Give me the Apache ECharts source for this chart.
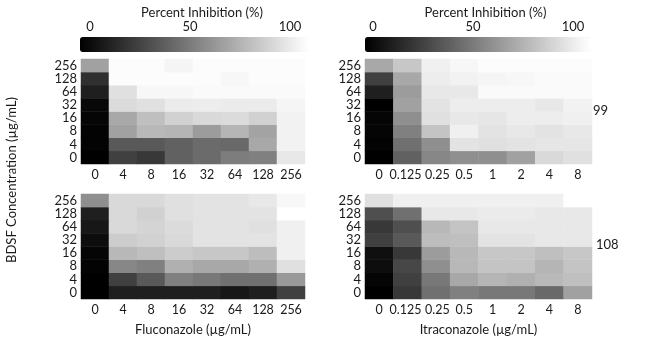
<!DOCTYPE html>
<html>
<head>
<meta charset="utf-8">
<script src="https://cdn.jsdelivr.net/npm/echarts@6/dist/echarts.min.js"></script>
<style>html,body{margin:0;padding:0;background:#fff}#c{width:664px;height:343px}</style>
</head>
<body>
<div id="c"></div>
<script>
// Tick labels
var bdsfLevels = ['0', '4', '8', '16', '32', '64', '128', '256'];
var flucLevels = ['0', '4', '8', '16', '32', '64', '128', '256'];
var itraLevels = ['0', '0.125', '0.25', '0.5', '1', '2', '4', '8'];
var colorbarTicks = [0, 50, 100];

// Percent inhibition; each inner array is one BDSF level (0 .. 256), columns follow drug levels
var flucStrain99 = [
  [0, 25, 22, 38, 42, 49, 50, 91],
  [1, 35, 35, 38, 42, 41, 66, 95],
  [1, 63, 72, 71, 61, 71, 64, 95],
  [2, 66, 75, 82, 85, 86, 82, 95],
  [3, 86, 88, 92, 93, 92, 92, 96],
  [12, 88, 97, 97, 98, 98, 98, 98],
  [19, 99, 99, 99, 99, 97, 99, 99],
  [63, 99, 99, 96, 99, 99, 99, 99]
];
var itraStrain99 = [
  [0, 38, 53, 56, 56, 63, 85, 88],
  [1, 44, 56, 89, 88, 89, 90, 90],
  [2, 50, 77, 94, 89, 91, 89, 91],
  [2, 56, 88, 91, 90, 93, 93, 94],
  [0, 63, 89, 93, 93, 93, 91, 95],
  [12, 61, 91, 91, 98, 98, 98, 98],
  [25, 66, 93, 95, 96, 97, 98, 98],
  [66, 78, 94, 97, 99, 99, 99, 99]
];
var flucStrain108 = [
  [0, 12, 12, 12, 12, 9, 12, 25],
  [0, 25, 35, 50, 47, 44, 44, 60],
  [1, 53, 50, 69, 66, 66, 69, 88],
  [2, 72, 75, 80, 78, 78, 74, 94],
  [5, 80, 82, 85, 89, 89, 89, 94],
  [9, 85, 83, 86, 89, 89, 88, 94],
  [12, 85, 82, 88, 89, 89, 89, 100],
  [56, 85, 85, 88, 89, 89, 91, 97]
];
var itraStrain108 = [
  [0, 22, 44, 50, 47, 47, 41, 63],
  [2, 25, 47, 66, 71, 69, 72, 75],
  [5, 28, 56, 72, 77, 77, 71, 77],
  [6, 22, 61, 72, 78, 78, 75, 78],
  [25, 35, 74, 75, 89, 89, 91, 91],
  [22, 31, 72, 77, 91, 91, 91, 91],
  [31, 44, 91, 91, 92, 92, 91, 91],
  [88, 94, 94, 94, 94, 94, 94, 100]
];

function toCells(m) {
  var out = [];
  for (var r = 0; r < m.length; r++)
    for (var c = 0; c < m[r].length; c++) out.push([c, r, m[r][c]]);
  return out;
}

var FONT = 'Lato';
var TXT = '#1a1a1a';

var grids = [
  { left: 81, top: 59, width: 224, height: 105 },
  { left: 365, top: 59, width: 227, height: 105 },
  { left: 81, top: 194, width: 224, height: 105 },
  { left: 365, top: 194, width: 227, height: 105 },
  { left: 80, top: 37, width: 228, height: 15 },
  { left: 365, top: 37, width: 225, height: 15 }
];

function catX(gi, data, name, tight) {
  var ax = {
    type: 'category', gridIndex: gi, data: data,
    axisLine: { show: false }, axisTick: { show: false }, splitLine: { show: false },
    axisLabel: { margin: 4, interval: 0, fontFamily: FONT, fontSize: 12.5, color: TXT },
    name: name || '', nameLocation: 'middle', nameGap: 24,
    nameTextStyle: { fontFamily: FONT, fontSize: 13, color: TXT }
  };
  if (tight) {
    ax.axisLabel.formatter = function (v, i) {
      if (i === 1) return '{l|' + v + '}';
      if (i === 2) return '{r|' + v + '}';
      return v;
    };
    ax.axisLabel.rich = {
      l: { padding: [0, 4, 0, 0], fontFamily: FONT, fontSize: 12.5, color: TXT },
      r: { padding: [0, 0, 0, 3], fontFamily: FONT, fontSize: 12.5, color: TXT }
    };
  }
  return ax;
}
function catY(gi) {
  return {
    type: 'category', gridIndex: gi, data: bdsfLevels,
    axisLine: { show: false }, axisTick: { show: false }, splitLine: { show: false },
    axisLabel: { margin: 4, interval: 0, fontFamily: FONT, fontSize: 13, color: TXT }
  };
}
function cbX(gi, min, max) {
  return {
    type: 'value', gridIndex: gi, position: 'top', min: min, max: max,
    axisLine: { show: false }, axisTick: { show: false }, splitLine: { show: false },
    axisLabel: { margin: 4, customValues: colorbarTicks, fontFamily: FONT, fontSize: 13, color: TXT },
    name: 'Percent Inhibition (%)', nameLocation: 'middle', nameGap: 15,
    nameTextStyle: { fontFamily: FONT, fontSize: 13, color: TXT, padding: [0, 0, 0, 16] }
  };
}

function hm(xi, m) {
  return {
    type: 'heatmap', xAxisIndex: xi, yAxisIndex: xi, data: toCells(m),
    emphasis: { disabled: true }, progressive: 0, animation: false
  };
}

var option = {
  animation: false,
  backgroundColor: '#fff',
  grid: grids,
  xAxis: [
    catX(0, flucLevels), catX(1, itraLevels, '', true),
    catX(2, flucLevels, 'Fluconazole (µg/mL)'), catX(3, itraLevels, 'Itraconazole (µg/mL)', true),
    cbX(4, -5, 109), cbX(5, -4, 108.5)
  ],
  yAxis: [
    catY(0), catY(1), catY(2), catY(3),
    { type: 'value', gridIndex: 4, show: false, min: 0, max: 1 },
    { type: 'value', gridIndex: 5, show: false, min: 0, max: 1 }
  ],
  visualMap: [
    {
      type: 'continuous', seriesIndex: [0, 2], min: 0, max: 100, orient: 'horizontal',
      left: 80, top: 37, itemHeight: 228, itemWidth: 15, padding: 0,
      calculable: false, hoverLink: false, text: null,
      inRange: { color: ['#000000', '#ffffff'] }
    },
    {
      type: 'continuous', seriesIndex: [1, 3], min: 0, max: 100, orient: 'horizontal',
      left: 365, top: 37, itemHeight: 225, itemWidth: 15, padding: 0,
      calculable: false, hoverLink: false, text: null,
      inRange: { color: ['#000000', '#ffffff'] }
    }
  ],
  series: [
    hm(0, flucStrain99), hm(1, itraStrain99), hm(2, flucStrain108), hm(3, itraStrain108)
  ],
  graphic: [
    { type: 'text', left: 593, top: 104, style: { text: '99', font: '13px Lato', fill: TXT } },
    { type: 'text', left: 596, top: 238, style: { text: '108', font: '13px Lato', fill: TXT } },
    { type: 'text', x: 12, y: 180, rotation: Math.PI / 2,
      style: { text: 'BDSF Concentration (µg/mL)', font: '13px Lato', fill: TXT, align: 'center', verticalAlign: 'middle' } }
  ]
};

var chart = echarts.init(document.getElementById('c'), null, { renderer: 'canvas' });
chart.setOption(option);
</script>
</body>
</html>
